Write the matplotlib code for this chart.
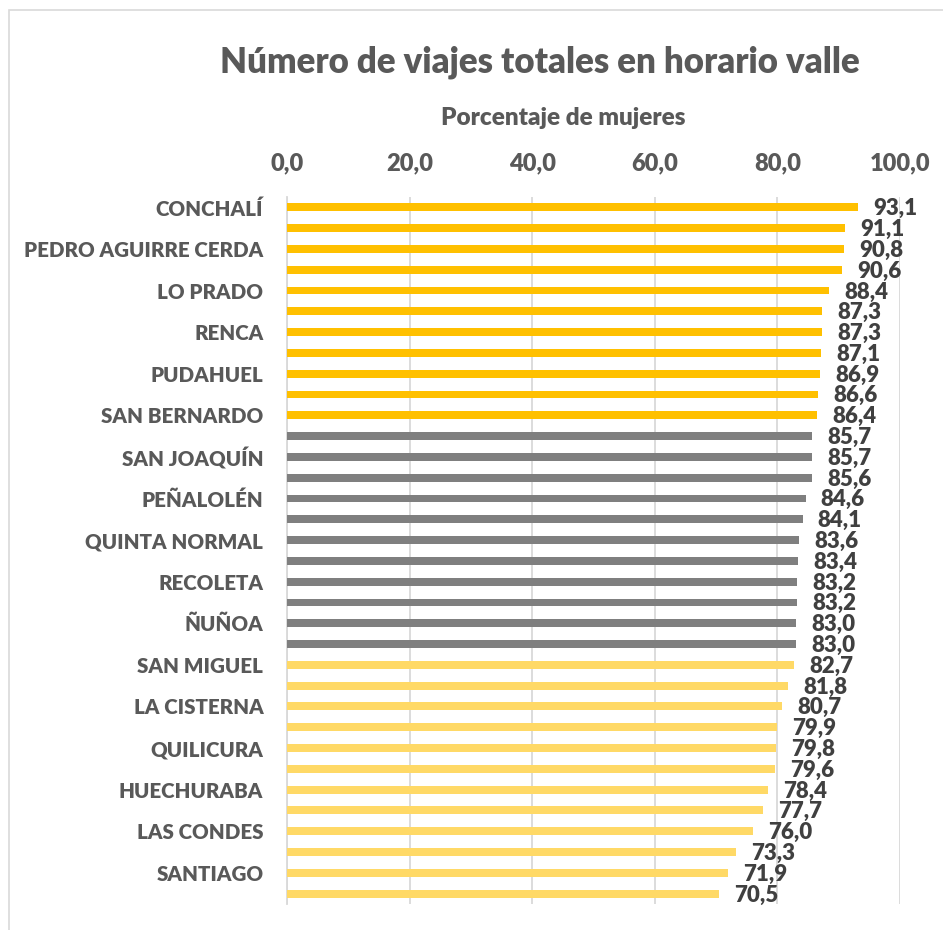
import matplotlib
matplotlib.use("Agg")
import matplotlib.pyplot as plt
from matplotlib.patches import Rectangle

plt.rcParams['font.family'] = ['Lato', 'DejaVu Sans']

# comunas (only every other name is shown in the original chart)
comunas = [
    'CONCHALÍ', '', 'PEDRO AGUIRRE CERDA', '', 'LO PRADO', '', 'RENCA', '',
    'PUDAHUEL', '', 'SAN BERNARDO', '', 'SAN JOAQUÍN', '', 'PEÑALOLÉN', '',
    'QUINTA NORMAL', '', 'RECOLETA', '', 'ÑUÑOA', '', 'SAN MIGUEL', '',
    'LA CISTERNA', '', 'QUILICURA', '', 'HUECHURABA', '', 'LAS CONDES', '',
    'SANTIAGO', '',
]
porcentaje = [
    93.1, 91.1, 90.8, 90.6, 88.4, 87.3, 87.3, 87.1, 86.9, 86.6, 86.4,
    85.7, 85.7, 85.6, 84.6, 84.1, 83.6, 83.4, 83.2, 83.2, 83.0, 83.0,
    82.7, 81.8, 80.7, 79.9, 79.8, 79.6, 78.4, 77.7, 76.0, 73.3, 71.9, 70.5,
]
grupo = ['alto'] * 11 + ['medio'] * 11 + ['bajo'] * 12
colores = {'alto': '#FFC000', 'medio': '#7F7F7F', 'bajo': '#FFD966'}
ticks_x = [0, 20, 40, 60, 80, 100]

txt = '#595959'

fig = plt.figure(figsize=(9.43, 9.30), dpi=100)
ax = fig.add_axes([0.3043, 0.0280, 0.6501, 0.7602])

y = list(range(len(porcentaje)))
ax.barh(y, porcentaje, height=0.38, color=[colores[g] for g in grupo], zorder=3)

for yi, v in zip(y, porcentaje):
    ax.annotate(f'{v:.1f}'.replace('.', ','), (v, yi), xytext=(11, -1),
                textcoords='offset points', va='center', ha='left',
                fontsize=16, fontweight='heavy', color='#404040', zorder=4)

ax.set_xlim(0, 100)
ax.set_ylim(len(porcentaje) - 0.5, -0.5)
ax.set_yticks(y)
ax.set_yticklabels(comunas)
ax.set_xticks(ticks_x)
ax.set_xticklabels([f'{t:.1f}'.replace('.', ',') for t in ticks_x])
ax.xaxis.tick_top()
ax.tick_params(axis='x', length=0, pad=16, labelsize=17, labelcolor=txt)
ax.tick_params(axis='y', length=0, pad=17, labelsize=14.8, labelcolor=txt)
for lab in ax.get_xticklabels() + ax.get_yticklabels():
    lab.set_fontweight('heavy')

ax.grid(axis='x', color='#D9D9D9', linewidth=1.3, zorder=0)
for s in ['top', 'right', 'bottom']:
    ax.spines[s].set_visible(False)
ax.spines['left'].set_color('#D9D9D9')
ax.spines['left'].set_linewidth(1.3)

fig.text(0.573, 0.933, 'Número de viajes totales en horario valle', ha='center', va='center',
         fontsize=25, fontweight='heavy', color=txt)
fig.text(0.597, 0.873, 'Porcentaje de mujeres', ha='center', va='center',
         fontsize=17.5, fontweight='heavy', color=txt)

# chart border
fig.patches.append(Rectangle((9 / 943, -0.01), 1.0, 1 - 10 / 930 + 0.01,
                             transform=fig.transFigure, fill=False,
                             edgecolor='#D9D9D9', linewidth=1.2))

fig.savefig('out.png', dpi=100)
